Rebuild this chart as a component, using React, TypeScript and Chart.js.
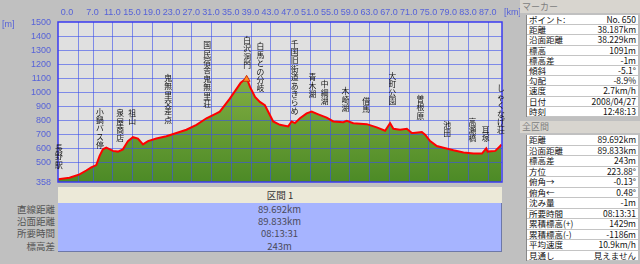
import React, { useEffect, useRef } from "react";
import { Chart, registerables } from "chart.js";
Chart.register(...registerables);

// ---- profile data (distance km / elevation m) ----
const distanceKm = [0, 2.33, 4.36, 5.72, 6.73, 7.75, 8.42, 9.09, 9.78, 11.12, 12.13, 13.14, 14.16, 15.17, 16.19, 17.2, 18.22, 19.92, 21.95, 23.98, 26.0, 28.03, 30.06, 32.09, 32.76, 34.79, 36.15, 37.0, 38.2, 38.9, 39.9, 40.87, 41.89, 42.9, 43.57, 44.93, 46.61, 47.3, 47.97, 48.99, 50.34, 51.36, 52.7, 54.4, 55.74, 57.77, 58.46, 59.8, 62.52, 64.54, 66.23, 67.24, 67.91, 69.27, 70.63, 71.64, 71.97, 73.67, 74.34, 75.35, 76.71, 78.05, 80.08, 82.11, 84.14, 85.84, 86.71, 86.98, 88.54, 89.55, 89.76];
const elevationM = [377, 388, 412, 440, 463, 479, 545, 591, 603, 580, 575, 591, 650, 678, 668, 626, 650, 668, 685, 708, 731, 766, 813, 848, 860, 953, 1023, 1066, 1100, 1035, 965, 930, 906, 836, 790, 766, 755, 790, 778, 813, 848, 860, 841, 818, 790, 785, 794, 778, 771, 748, 724, 778, 738, 731, 738, 708, 708, 715, 696, 650, 615, 603, 584, 568, 561, 561, 598, 575, 580, 615, 626];

const xMaxKm = 89.9;
const yMinM = 358;
const yMaxM = 1500;
const yTickValues = [358, 500, 600, 700, 800, 900, 1000, 1100, 1200, 1300, 1400, 1500];
const yGridValues = [500, 600, 700, 800, 900, 1000, 1100, 1200, 1300, 1400];
const xTickValues = [0, 7, 11, 15, 19, 23, 27, 31, 35, 39, 43, 47, 51, 55, 59, 63, 67, 71, 75, 79, 83, 87];
const xTickLabels = xTickValues.map((v) => v.toFixed(1));
const xGridValues = [4, 7, 11, 15, 19, 23, 27, 31, 35, 39, 43, 47, 51, 55, 59, 63, 67, 71, 75, 79, 83, 87];

// ---- waypoints ----
const placeNames = ["長野駅", "小鍋バス停", "泉屋商店", "祖山", "鬼無里交差点", "国民宿舎鬼無里荘", "白沢洞門", "白馬との分岐", "千国旧街道あきらめ", "青木湖", "中綱湖", "木崎湖", "借馬", "大町公園", "曽根原", "池田", "高瀬橋", "耳塚", "しゃくなげ荘"];
const placeKm = [0.1, 8.4, 12.5, 14.9, 22.2, 30.1, 38.2, 40.9, 47.8, 51.4, 53.9, 58.1, 62.3, 67.6, 73.3, 78.7, 83.8, 86.5, 89.6];
const placeElev = [379, 519, 568, 691, 701, 813, 1092, 925, 764, 883, 834, 785, 778, 834, 729, 603, 568, 568, 624];

const markerKm = 38.187;
const markerElev = 1091;

// ---- tables ----
const sectionTitle = "区間 1";
const summaryLabels = ["直線距離", "沿面距離", "所要時間", "標高差"];
const summaryValues = ["89.692km", "89.833km", "08:13:31", "243m"];
const markerLabels = ["ポイント:", "距離", "沿面距離", "標高", "標高差", "傾斜", "勾配", "速度", "日付", "時刻"];
const markerValues = ["No. 650", "38.187km", "38.229km", "1091m", "-1m", "-5.1°", "-8.9%", "2.7km/h", "2008/04/27", "12:48:13"];
const totalLabels = ["距離", "沿面距離", "標高差", "方位", "俯角→", "俯角←", "沈み量", "所要時間", "累積標高(+)", "累積標高(-)", "平均速度", "見通し"];
const totalValues = ["89.692km", "89.833km", "243m", "223.88°", "-0.13°", "0.48°", "-1m", "08:13:31", "1429m", "-1186m", "10.9km/h", "見えません"];

const JP = '"Noto Sans CJK JP", "DejaVu Sans", sans-serif';
const AXIS_COLOR = "#5662d8";

export default function App() {
  const ref = useRef<HTMLCanvasElement | null>(null);

  useEffect(() => {
    document.body.style.margin = "0";
    const canvas = ref.current;
    if (!canvas) return;
    const pts = distanceKm.map((x, i) => ({ x, y: elevationM[i] }));

    const decor = {
      id: "profileDecor",
      beforeDatasetsDraw(chart: any) {
        const { ctx, chartArea: a } = chart;
        ctx.save();
        ctx.fillStyle = "#e0e0e0";
        ctx.fillRect(a.left, a.top, a.right - a.left, a.bottom - a.top);
        ctx.restore();
      },
      beforeDatasetDraw(chart: any, args: any) {
        if (args.index !== 1) return;
        const { ctx, chartArea: a, scales } = chart;
        ctx.save();
        ctx.strokeStyle = "rgba(60,80,235,0.6)";
        ctx.lineWidth = 1;
        xGridValues.forEach((v) => {
          const px = Math.round(scales.x.getPixelForValue(v)) + 0.5;
          ctx.beginPath();
          ctx.moveTo(px, a.top);
          ctx.lineTo(px, a.bottom);
          ctx.stroke();
        });
        yGridValues.forEach((v) => {
          const py = Math.round(scales.y.getPixelForValue(v)) + 0.5;
          ctx.beginPath();
          ctx.moveTo(a.left, py);
          ctx.lineTo(a.right, py);
          ctx.stroke();
        });
        ctx.restore();
      },
      afterDraw(chart: any) {
        const { ctx, chartArea: a, scales } = chart;
        ctx.save();
        ctx.strokeStyle = "#3a3af0";
        ctx.lineWidth = 1.5;
        ctx.strokeRect(a.left, a.top, a.right - a.left, a.bottom - a.top);
        ctx.fillStyle = AXIS_COLOR;
        ctx.font = '9px "Liberation Sans", Arial, sans-serif';
        ctx.textAlign = "right";
        ctx.textBaseline = "middle";
        yTickValues.forEach((v) => {
          ctx.fillText(String(v), a.left - 7, scales.y.getPixelForValue(v) + 0.5);
        });
        ctx.textAlign = "left";
        ctx.fillText("[m]", 2, a.top + 3);
        ctx.textAlign = "center";
        xTickValues.forEach((v, i) => {
          let px = scales.x.getPixelForValue(v);
          if (i === 0) px += 9;
          ctx.fillText(xTickLabels[i], px, 13);
        });
        ctx.textAlign = "left";
        ctx.fillText("[km]", a.right + 2, 13);
        // vertical waypoint labels
        ctx.fillStyle = "#111";
        ctx.font = `7.8px ${JP}`;
        ctx.textAlign = "center";
        ctx.textBaseline = "middle";
        const step = 8.4;
        placeNames.forEach((name, i) => {
          const chars = Array.from(name);
          const cx = scales.x.getPixelForValue(placeKm[i]) + 0.5;
          const bottom = scales.y.getPixelForValue(placeElev[i]) - 10;
          const top = bottom - chars.length * step;
          chars.forEach((c, j) => {
            ctx.fillText(c, cx, top + j * step + step / 2);
          });
        });
        ctx.restore();
      },
    };

    const chart = new Chart(canvas, {
      type: "line",
      data: {
        datasets: [
          {
            data: pts,
            order: 3,
            fill: "start",
            borderWidth: 0,
            borderColor: "rgba(0,0,0,0)",
            pointRadius: 0,
            tension: 0,
            backgroundColor: (c: any) => {
              const { chart: ch } = c;
              const area = ch.chartArea;
              if (!area) return "#6a9e34";
              const g = ch.ctx.createLinearGradient(0, area.top + 50, 0, area.bottom);
              g.addColorStop(0, "#86b044");
              g.addColorStop(1, "#4c8a26");
              return g;
            },
          },
          {
            data: pts,
            order: 2,
            fill: false,
            borderColor: "#ff0000",
            borderWidth: 2,
            pointRadius: 0,
            tension: 0,
          },
          {
            data: [{ x: markerKm, y: markerElev }],
            order: 1,
            showLine: false,
            pointStyle: "triangle",
            pointRadius: 4,
            backgroundColor: "#ff9020",
            borderColor: "#d03010",
            borderWidth: 1,
          },
        ],
      },
      options: {
        animation: false,
        responsive: false,
        maintainAspectRatio: false,
        layout: { padding: { left: 58, top: 22, right: 18, bottom: 2 } },
        plugins: { legend: { display: false }, tooltip: { enabled: false } },
        scales: {
          x: { type: "linear", min: 0, max: xMaxKm, display: false },
          y: { type: "linear", min: yMinM, max: yMaxM, display: false },
        },
      } as any,
      plugins: [decor],
    } as any);
    return () => chart.destroy();
  }, []);

  const rowH = 12.2;
  const cellStyle = (h: number): React.CSSProperties => ({
    position: "absolute",
    left: 0,
    width: 111,
    height: h,
    borderBottom: "1px solid #c4c4c4",
    boxSizing: "border-box",
    fontSize: 8.5,
    lineHeight: `${h - 1}px`,
    color: "#111",
    whiteSpace: "nowrap",
    overflow: "hidden",
  });
  return (
    <div style={{ position: "fixed", left: 0, top: 0, width: 640, height: 264, background: "#c0c0c0", overflow: "hidden", fontFamily: JP }}>
      <canvas ref={ref} width={520} height={187} style={{ position: "absolute", left: 0, top: 0, width: 520, height: 187 }} />
      <div style={{ position: "absolute", left: 58, top: 187, width: 444, height: 16, background: "#ece9d8", color: "#333", fontSize: 9.5, lineHeight: "16px", textAlign: "center" }}>{sectionTitle}</div>
      <div style={{ position: "absolute", left: 58, top: 203, width: 443, height: 48, background: "#a6b4ff", borderRight: "1px solid #6d78a8", borderBottom: "1px solid #6d78a8" }}>
        {summaryValues.map((v, i) => (
          <div key={i} style={{ position: "absolute", left: 0, top: i * rowH, width: 443, height: rowH, lineHeight: `${rowH}px`, textAlign: "center", fontSize: 9.5, color: "#4a4a5a" }}>{v}</div>
        ))}
      </div>
      {summaryLabels.map((l, i) => (
        <div key={i} style={{ position: "absolute", left: 0, top: 203 + i * rowH, width: 55, height: rowH, lineHeight: `${rowH}px`, textAlign: "right", fontSize: 9.5, color: "#555" }}>{l}</div>
      ))}
      <div style={{ position: "absolute", left: 520, top: 0, width: 120, height: 13, background: "#d8d5cf", color: "#808080", fontSize: 9, lineHeight: "13px", paddingLeft: 2 }}>マーカー</div>
      <div style={{ position: "absolute", left: 526, top: 15, width: 111, height: 102, background: "#fff", borderLeft: "1px solid #888" }}>
        {markerLabels.map((l, i) => (
          <div key={i} style={{ ...cellStyle(10.2), top: i * 10.2 }}>
            <span style={{ position: "absolute", left: 2 }}>{l}</span>
            <span style={{ position: "absolute", right: 2 }}>{markerValues[i]}</span>
          </div>
        ))}
      </div>
      <div style={{ position: "absolute", left: 520, top: 121, width: 120, height: 12, background: "#d8d5cf", color: "#808080", fontSize: 9, lineHeight: "12px", paddingLeft: 2 }}>全区間</div>
      <div style={{ position: "absolute", left: 526, top: 135, width: 111, height: 126, background: "#fff", borderLeft: "1px solid #888" }}>
        {totalLabels.map((l, i) => (
          <div key={i} style={{ ...cellStyle(10.5), top: i * 10.5 }}>
            <span style={{ position: "absolute", left: 2 }}>{l}</span>
            <span style={{ position: "absolute", right: 2 }}>{totalValues[i]}</span>
          </div>
        ))}
      </div>
    </div>
  );
}
